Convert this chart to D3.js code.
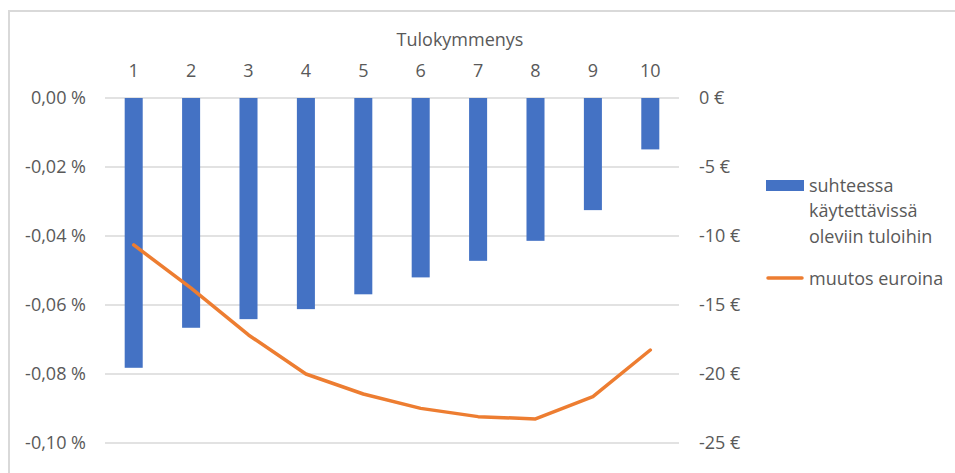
<!DOCTYPE html>
<html>
<head>
<meta charset="utf-8">
<script src="https://cdn.jsdelivr.net/npm/d3@7"></script>
<style>
  body { margin: 0; background: #fff; }
  svg { display: block; font-family: "Open Sans", sans-serif; }
</style>
</head>
<body>
<div id="chart"></div>
<script>
// data
var deciles = ["1", "2", "3", "4", "5", "6", "7", "8", "9", "10"];
var relChange = [-0.0782, -0.0666, -0.0641, -0.0612, -0.0569, -0.0520, -0.0472, -0.0414, -0.0325, -0.0149];
var euroChange = [-10.65, -13.77, -17.17, -20.0, -21.45, -22.49, -23.09, -23.26, -21.64, -18.26];
var leftTicks = [0, -0.02, -0.04, -0.06, -0.08, -0.10];
var rightTicks = [0, -5, -10, -15, -20, -25];
var axisTitle = "Tulokymmenys";
var legendBar = ["suhteessa", "käytettävissä", "oleviin tuloihin"];
var legendLine = "muutos euroina";

var width = 955, height = 473;
var textColor = "#595959";
var fontSize = "18px";

var fi = d3.formatLocale({decimal: ",", thousands: " ", grouping: [3], currency: ["", " €"], minus: "-"});

var svg = d3.select("#chart")
  .append("svg")
  .attr("width", width)
  .attr("height", height);

// chart border (only top and left visible)
svg.append("path")
  .attr("d", "M9,473V11H955")
  .attr("fill", "none")
  .attr("stroke", "#d9d9d9")
  .attr("stroke-width", 2);

var x = d3.scaleBand()
  .domain(deciles)
  .range([105, 679])
  .paddingInner(0.686)
  .paddingOuter(0.343);

var yLeft = d3.scaleLinear().domain([-0.10, 0]).range([443, 98]);
var yRight = d3.scaleLinear().domain([-25, 0]).range([443, 98]);

// gridlines
svg.append("g")
  .selectAll("line")
  .data(leftTicks)
  .enter()
  .append("line")
  .attr("x1", 105)
  .attr("x2", 679)
  .attr("y1", function (d) { return yLeft(d); })
  .attr("y2", function (d) { return yLeft(d); })
  .attr("stroke", "#d9d9d9")
  .attr("stroke-width", 1.5);

// left axis
var leftAxis = d3.axisLeft(yLeft)
  .tickValues(leftTicks)
  .tickSize(0)
  .tickPadding(19)
  .tickFormat(function (d) { return fi.format(".2f")(d) + " %"; });

var gl = svg.append("g")
  .attr("transform", "translate(105,0)")
  .call(leftAxis);
gl.select(".domain").remove();
gl.selectAll("text")
  .attr("fill", textColor)
  .style("font-size", fontSize)
  .style("font-family", "Open Sans, sans-serif");

// right axis
var rightAxis = d3.axisRight(yRight)
  .tickValues(rightTicks)
  .tickSize(0)
  .tickPadding(20)
  .tickFormat(function (d) { return fi.format("d")(d) + " €"; });

var gr = svg.append("g")
  .attr("transform", "translate(679,0)")
  .call(rightAxis);
gr.select(".domain").remove();
gr.selectAll("text")
  .attr("fill", textColor)
  .style("font-size", fontSize)
  .style("font-family", "Open Sans, sans-serif");

// top category axis
var topAxis = d3.axisTop(x).tickSize(0).tickPadding(21);
var gt = svg.append("g")
  .attr("transform", "translate(0,98)")
  .call(topAxis);
gt.select(".domain").remove();
gt.selectAll("text")
  .attr("fill", textColor)
  .style("font-size", fontSize)
  .style("font-family", "Open Sans, sans-serif");

svg.append("text")
  .attr("x", 460)
  .attr("y", 46)
  .attr("text-anchor", "middle")
  .attr("fill", textColor)
  .style("font-size", fontSize)
  .text(axisTitle);

// bars
svg.append("g")
  .selectAll("rect")
  .data(relChange)
  .enter()
  .append("rect")
  .attr("x", function (d, i) { return x(deciles[i]); })
  .attr("y", yLeft(0))
  .attr("width", x.bandwidth())
  .attr("height", function (d) { return yLeft(d) - yLeft(0); })
  .attr("fill", "#4472c4");

// line
var line = d3.line()
  .x(function (d, i) { return x(deciles[i]) + x.bandwidth() / 2; })
  .y(function (d) { return yRight(d); });

svg.append("path")
  .datum(euroChange)
  .attr("d", line)
  .attr("fill", "none")
  .attr("stroke", "#ed7d31")
  .attr("stroke-width", 3.5)
  .attr("stroke-linecap", "round")
  .attr("stroke-linejoin", "round");

// legend
var legend = svg.append("g").attr("transform", "translate(766,0)");

legend.append("rect")
  .attr("x", 0)
  .attr("y", 180)
  .attr("width", 38)
  .attr("height", 11)
  .attr("fill", "#4472c4");

legend.append("g")
  .selectAll("text")
  .data(legendBar)
  .enter()
  .append("text")
  .attr("x", 43)
  .attr("y", function (d, i) { return 191.5 + i * 25.8; })
  .attr("fill", textColor)
  .style("font-size", fontSize)
  .text(function (d) { return d; });

legend.append("line")
  .attr("x1", 2)
  .attr("x2", 36)
  .attr("y1", 278)
  .attr("y2", 278)
  .attr("stroke", "#ed7d31")
  .attr("stroke-width", 3.5)
  .attr("stroke-linecap", "round");

legend.append("text")
  .attr("x", 43)
  .attr("y", 284.5)
  .attr("fill", textColor)
  .style("font-size", fontSize)
  .text(legendLine);
</script>
</body>
</html>
